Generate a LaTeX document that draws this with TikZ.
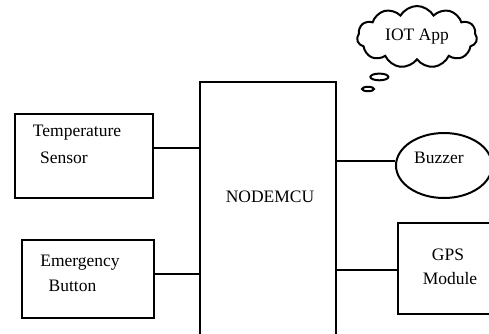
\documentclass[tikz,border=0pt]{standalone}
\usepackage{fontspec}
\setmainfont{Liberation Serif}
\usetikzlibrary{shapes.geometric,shapes.symbols,shapes.callouts}
\begin{document}
\begin{tikzpicture}[x=1pt,y=-1pt,line width=2pt,
  box/.style={draw,rectangle,inner sep=0pt},
  lbl/.style={font=\fontsize{17.5}{24}\selectfont,align=left,inner sep=0pt}]
\useasboundingbox (0,0) rectangle (489,333);
\clip (0,0) rectangle (489,333);
% boxes
\node[box,minimum width=138pt,minimum height=84pt] (temp) at (84,156) {};
\node[box,minimum width=132pt,minimum height=78pt] (emerg) at (88,279) {};
\node[box,minimum width=136pt,minimum height=263pt] (mcu) at (268,213.5) {};
\node[draw,ellipse,inner sep=0pt,minimum width=96pt,minimum height=65pt] (buzz) at (444,165.5) {};
\node[box,minimum width=107pt,minimum height=91pt] (gps) at (451.5,268.5) {};
% labels
\node[lbl] (templ1) at (77,133) {Temperature};
\node[lbl] (templ2) at (64,158) {Sensor};
\node[lbl] (emergl1) at (80,263) {Emergency};
\node[lbl] (emergl2) at (72.5,286) {Button};
\node[lbl] (mcul) at (270,197) {NODEMCU};
\node[lbl] (buzzl) at (439,158) {Buzzer};
\node[lbl] (gpsl1) at (448,255) {GPS};
\node[lbl] (gpsl2) at (450,279) {Module};
% cloud
\node[cloud callout,draw,cloud puffs=11,cloud puff arc=120,aspect=2,
      minimum width=120pt,minimum height=62pt,inner sep=0pt,
      callout absolute pointer={(368,89)},
      font=\fontsize{17.5}{24}\selectfont] (cloud) at (417,37) {IOT App};
% connectors
\draw (temp.east |- 0,148) -- (mcu.west |- 0,148);
\draw (emerg.east |- 0,274) -- (mcu.west |- 0,274);
\draw (mcu.east |- 0,161) -- (buzz.west |- 0,161);
\draw (mcu.east |- 0,270) -- (gps.west |- 0,270);
\end{tikzpicture}
\end{document}
